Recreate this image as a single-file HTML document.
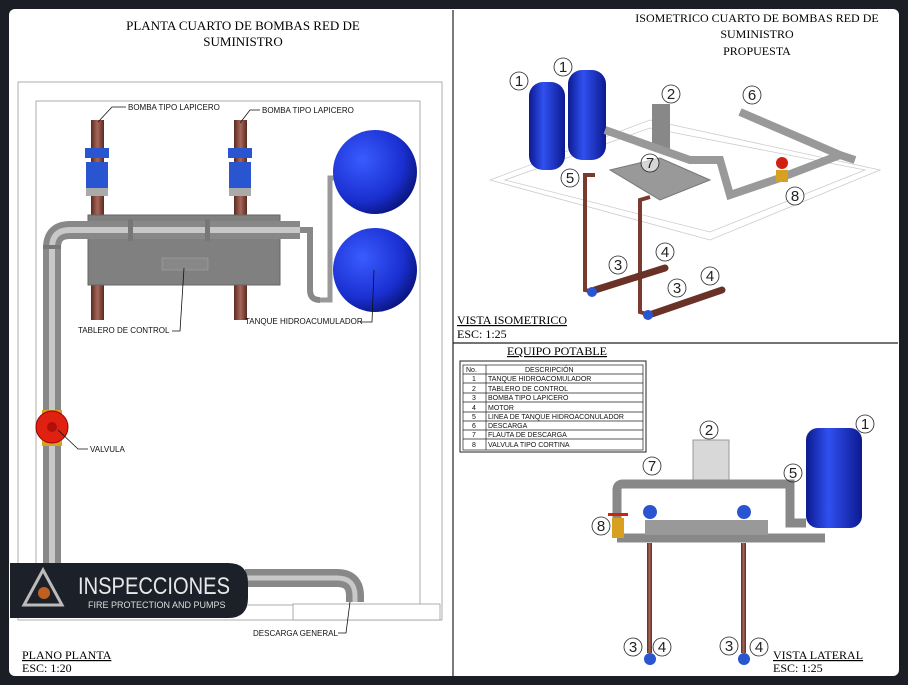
<!DOCTYPE html>
<html><head><meta charset="utf-8"><style>
body{margin:0;background:#1b1e25;}
svg{display:block}
text{font-family:"Liberation Sans",sans-serif;}
text.s,.s text{font-family:"Liberation Serif",serif;}
</style></head><body>
<svg width="908" height="685" viewBox="0 0 908 685" xmlns="http://www.w3.org/2000/svg">
<defs>
<linearGradient id="cu" x1="0" x2="1"><stop offset="0" stop-color="#5a2a20"/><stop offset=".5" stop-color="#a8665a"/><stop offset="1" stop-color="#5a2a20"/></linearGradient>
<radialGradient id="bl" cx=".35" cy=".35" r=".7"><stop offset="0" stop-color="#3a5cff"/><stop offset=".7" stop-color="#1a2fd0"/><stop offset="1" stop-color="#0a1680"/></radialGradient>
<linearGradient id="bt" x1="0" x2="1"><stop offset="0" stop-color="#0c1a90"/><stop offset=".4" stop-color="#3050f0"/><stop offset="1" stop-color="#0c1a90"/></linearGradient>
</defs>
<rect x="9" y="9" width="890" height="667" rx="6" fill="#fff"/>
<line x1="453" y1="10" x2="453" y2="676" stroke="#222" stroke-width="1.2"/>
<line x1="453" y1="343" x2="898" y2="343" stroke="#222" stroke-width="1.2"/>

<!-- LEFT -->
<text class="s" x="243" y="30" font-size="13" text-anchor="middle">PLANTA  CUARTO DE BOMBAS RED DE</text>
<text class="s" x="243" y="46" font-size="13" text-anchor="middle">SUMINISTRO</text>
<rect x="18" y="82" width="424" height="538" fill="none" stroke="#999" stroke-width=".8"/>
<rect x="36" y="101" width="384" height="504" fill="none" stroke="#999" stroke-width=".8"/>
<rect x="293" y="604" width="147" height="16" fill="#fff" stroke="#999" stroke-width=".8"/>
<rect x="91" y="120" width="13" height="200" fill="url(#cu)"/>
<rect x="234" y="120" width="13" height="200" fill="url(#cu)"/>
<g fill="#2a55d0"><rect x="85" y="148" width="24" height="10"/><rect x="86" y="162" width="22" height="26"/><rect x="228" y="148" width="24" height="10"/><rect x="229" y="162" width="22" height="26"/></g>
<rect x="86" y="188" width="22" height="8" fill="#aaa"/><rect x="229" y="188" width="22" height="8" fill="#aaa"/>
<rect x="88" y="215" width="192" height="70" fill="#808080" stroke="#666"/>
<rect x="162" y="258" width="46" height="12" fill="#888" stroke="#aaa" stroke-width=".5"/>
<path d="M52,590 V248 Q52,230 70,230 H300" fill="none" stroke="#888" stroke-width="18"/>
<path d="M52,590 V248 Q52,230 70,230 H300" fill="none" stroke="#c8c8c8" stroke-width="6"/>
<rect x="128" y="219" width="5" height="22" fill="#777"/><rect x="205" y="219" width="5" height="22" fill="#777"/><rect x="43" y="245" width="18" height="4" fill="#777"/>
<path d="M300,230 H310 V290 Q310,300 320,300" fill="none" stroke="#888" stroke-width="6"/>
<path d="M320,300 H330 V178 H336" fill="none" stroke="#999" stroke-width="5"/>
<circle cx="375" cy="172" r="42" fill="url(#bl)"/>
<circle cx="375" cy="270" r="42" fill="url(#bl)"/>
<rect x="42" y="410" width="20" height="36" fill="#d8a020"/>
<circle cx="52" cy="427" r="16" fill="#e02010" stroke="#900"/>
<circle cx="52" cy="427" r="5" fill="#b01008"/>
<path d="M245,578 H337 Q355,578 355,596 V602" fill="none" stroke="#888" stroke-width="18"/>
<path d="M245,578 H337 Q355,578 355,596 V602" fill="none" stroke="#c8c8c8" stroke-width="5"/>
<g font-size="8" fill="#111">
<text x="128" y="110">BOMBA TIPO LAPICERO</text>
<text x="262" y="113">BOMBA TIPO LAPICERO</text>
<text x="78" y="333">TABLERO DE CONTROL</text>
<text x="245" y="324">TANQUE HIDROACUMULADOR</text>
<text x="90" y="452">VALVULA</text>
<text x="253" y="636">DESCARGA GENERAL</text>
</g>
<g fill="none" stroke="#111" stroke-width=".8">
<path d="M126,107 H112 L98,122"/><path d="M260,110 H250 L240,123"/>
<path d="M172,331 H180 L184,268"/><path d="M360,322 H372 L374,270"/>
<path d="M88,449 H78 L58,430"/><path d="M338,633 H346 L350,602"/>
</g>
<g class="s" font-size="12"><text x="22" y="659" text-decoration="underline">PLANO PLANTA</text><text x="22" y="672">ESC: 1:20</text></g>
<path d="M10,563 H228 Q248,563 248,583 V598 Q248,618 228,618 H10 Z" fill="#1c2028"/>
<path d="M43,570 L62,605 H24 Z" fill="none" stroke="#bbb" stroke-width="3"/>
<circle cx="44" cy="593" r="6" fill="#c06020"/>
<text x="78" y="594" font-size="24" fill="#e8e8e8" textLength="152" lengthAdjust="spacingAndGlyphs">INSPECCIONES</text>
<text x="88" y="608" font-size="9" fill="#ddd">FIRE PROTECTION AND PUMPS</text>

<!-- RIGHT TOP -->
<text class="s" x="757" y="22" font-size="12" text-anchor="middle">ISOMETRICO CUARTO DE BOMBAS RED DE</text>
<text class="s" x="757" y="38" font-size="12" text-anchor="middle">SUMINISTRO</text>
<text class="s" x="757" y="55" font-size="12" text-anchor="middle">PROPUESTA</text>
<path d="M490,180 L650,120 L880,170 L710,240 Z" fill="none" stroke="#ccc" stroke-width=".8"/>
<path d="M505,180 L650,128 L865,170 L710,232 Z" fill="none" stroke="#ccc" stroke-width=".8"/>
<rect x="529" y="82" width="36" height="88" rx="14" fill="url(#bt)"/>
<rect x="568" y="70" width="38" height="90" rx="14" fill="url(#bt)"/>
<rect x="652" y="104" width="18" height="45" fill="#888"/>
<path d="M605,130 L690,160 H720 L730,195 L780,178 L840,155" fill="none" stroke="#999" stroke-width="8"/>
<path d="M740,112 L840,155 L855,160" fill="none" stroke="#999" stroke-width="8"/>
<path d="M610,170 L660,158 L710,180 L660,200 Z" fill="#999" stroke="#777"/>
<circle cx="782" cy="163" r="6" fill="#d02010"/><rect x="776" y="170" width="12" height="12" fill="#d8a020"/>
<path d="M595,175 L585,175 V290 L595,292" fill="none" stroke="#7a3a2e" stroke-width="4"/>
<path d="M650,197 L640,200 V312 L650,315" fill="none" stroke="#7a3a2e" stroke-width="4"/>
<path d="M595,290 L665,268" stroke="#6a3226" stroke-width="7" stroke-linecap="round"/>
<path d="M652,314 L722,290" stroke="#6a3226" stroke-width="7" stroke-linecap="round"/>
<circle cx="592" cy="292" r="5" fill="#2a55d0"/><circle cx="648" cy="315" r="5" fill="#2a55d0"/>
<g font-size="15" text-anchor="middle" fill="#222"><g fill="#fff" fill-opacity=".6" stroke="#222" stroke-width=".8">
<circle cx="519" cy="81" r="9"/><circle cx="563" cy="67" r="9"/><circle cx="671" cy="94" r="9"/><circle cx="752" cy="95" r="9"/><circle cx="570" cy="178" r="9"/><circle cx="650" cy="163" r="9"/><circle cx="795" cy="196" r="9"/><circle cx="665" cy="252" r="9"/><circle cx="710" cy="276" r="9"/><circle cx="618" cy="265" r="9"/><circle cx="677" cy="288" r="9"/></g>
<text x="519" y="86">1</text><text x="563" y="72">1</text><text x="671" y="99">2</text><text x="752" y="100">6</text><text x="570" y="183">5</text><text x="650" y="168">7</text><text x="795" y="201">8</text><text x="665" y="257">4</text><text x="710" y="281">4</text><text x="618" y="270">3</text><text x="677" y="293">3</text></g>
<g class="s" font-size="12"><text x="457" y="324" text-decoration="underline">VISTA ISOMETRICO</text><text x="457" y="338">ESC: 1:25</text></g>

<!-- RIGHT BOTTOM -->
<text class="s" x="557" y="355" font-size="12" text-anchor="middle" text-decoration="underline">EQUIPO POTABLE</text>
<rect x="460" y="361" width="186" height="91" fill="none" stroke="#222"/>
<g fill="none" stroke="#222" stroke-width=".7">
<rect x="463" y="365" width="180" height="85"/>
<line x1="486" y1="365" x2="486" y2="450"/>
<line x1="463" y1="374" x2="643" y2="374"/><line x1="463" y1="383" x2="643" y2="383"/><line x1="463" y1="393" x2="643" y2="393"/><line x1="463" y1="402" x2="643" y2="402"/><line x1="463" y1="412" x2="643" y2="412"/><line x1="463" y1="421" x2="643" y2="421"/><line x1="463" y1="430" x2="643" y2="430"/><line x1="463" y1="439" x2="643" y2="439"/>
</g>
<g font-size="7" fill="#111"><text x="466" y="372">No.</text><text x="525" y="372">DESCRIPCIÓN</text>
<g text-anchor="middle"><text x="474" y="381">1</text><text x="474" y="391">2</text><text x="474" y="400">3</text><text x="474" y="410">4</text><text x="474" y="419">5</text><text x="474" y="428">6</text><text x="474" y="437">7</text><text x="474" y="447">8</text></g>
<text x="488" y="381">TANQUE HIDROACOMULADOR</text><text x="488" y="391">TABLERO DE CONTROL</text><text x="488" y="400">BOMBA TIPO LAPICERO</text><text x="488" y="410">MOTOR</text><text x="488" y="419">LINEA DE TANQUE HIDROACONULADOR</text><text x="488" y="428">DESCARGA</text><text x="488" y="437">FLAUTA DE DESCARGA</text><text x="488" y="447">VALVULA TIPO CORTINA</text></g>
<rect x="693" y="440" width="36" height="46" fill="#d8d8d8" stroke="#999"/>
<rect x="806" y="428" width="56" height="100" rx="12" fill="url(#bt)"/>
<path d="M617,538 V490 Q617,484 623,484 H790 V523 H806" fill="none" stroke="#888" stroke-width="9"/>
<path d="M617,538 H825" fill="none" stroke="#888" stroke-width="9"/>
<rect x="645" y="520" width="123" height="15" fill="#999"/>
<circle cx="650" cy="512" r="7" fill="#2a55d0"/><circle cx="744" cy="512" r="7" fill="#2a55d0"/>
<rect x="612" y="518" width="12" height="20" fill="#d8a020"/><rect x="608" y="513" width="20" height="3" fill="#d02010"/>
<rect x="647" y="543" width="5" height="110" fill="url(#cu)"/><rect x="741" y="543" width="5" height="110" fill="url(#cu)"/>
<circle cx="650" cy="659" r="6" fill="#2a55d0"/><circle cx="744" cy="659" r="6" fill="#2a55d0"/>
<g font-size="15" text-anchor="middle" fill="#222"><g fill="none" stroke="#222" stroke-width=".8">
<circle cx="865" cy="424" r="9"/><circle cx="709" cy="430" r="9"/><circle cx="652" cy="466" r="9"/><circle cx="793" cy="473" r="9"/><circle cx="601" cy="526" r="9"/><circle cx="633" cy="647" r="9"/><circle cx="662" cy="647" r="9"/><circle cx="729" cy="646" r="9"/><circle cx="759" cy="647" r="9"/></g>
<text x="865" y="429">1</text><text x="709" y="435">2</text><text x="652" y="471">7</text><text x="793" y="478">5</text><text x="601" y="531">8</text><text x="633" y="652">3</text><text x="662" y="652">4</text><text x="729" y="651">3</text><text x="759" y="652">4</text></g>
<g class="s" font-size="12"><text x="773" y="659" text-decoration="underline">VISTA LATERAL</text><text x="773" y="672">ESC: 1:25</text></g>
</svg>
</body></html>
